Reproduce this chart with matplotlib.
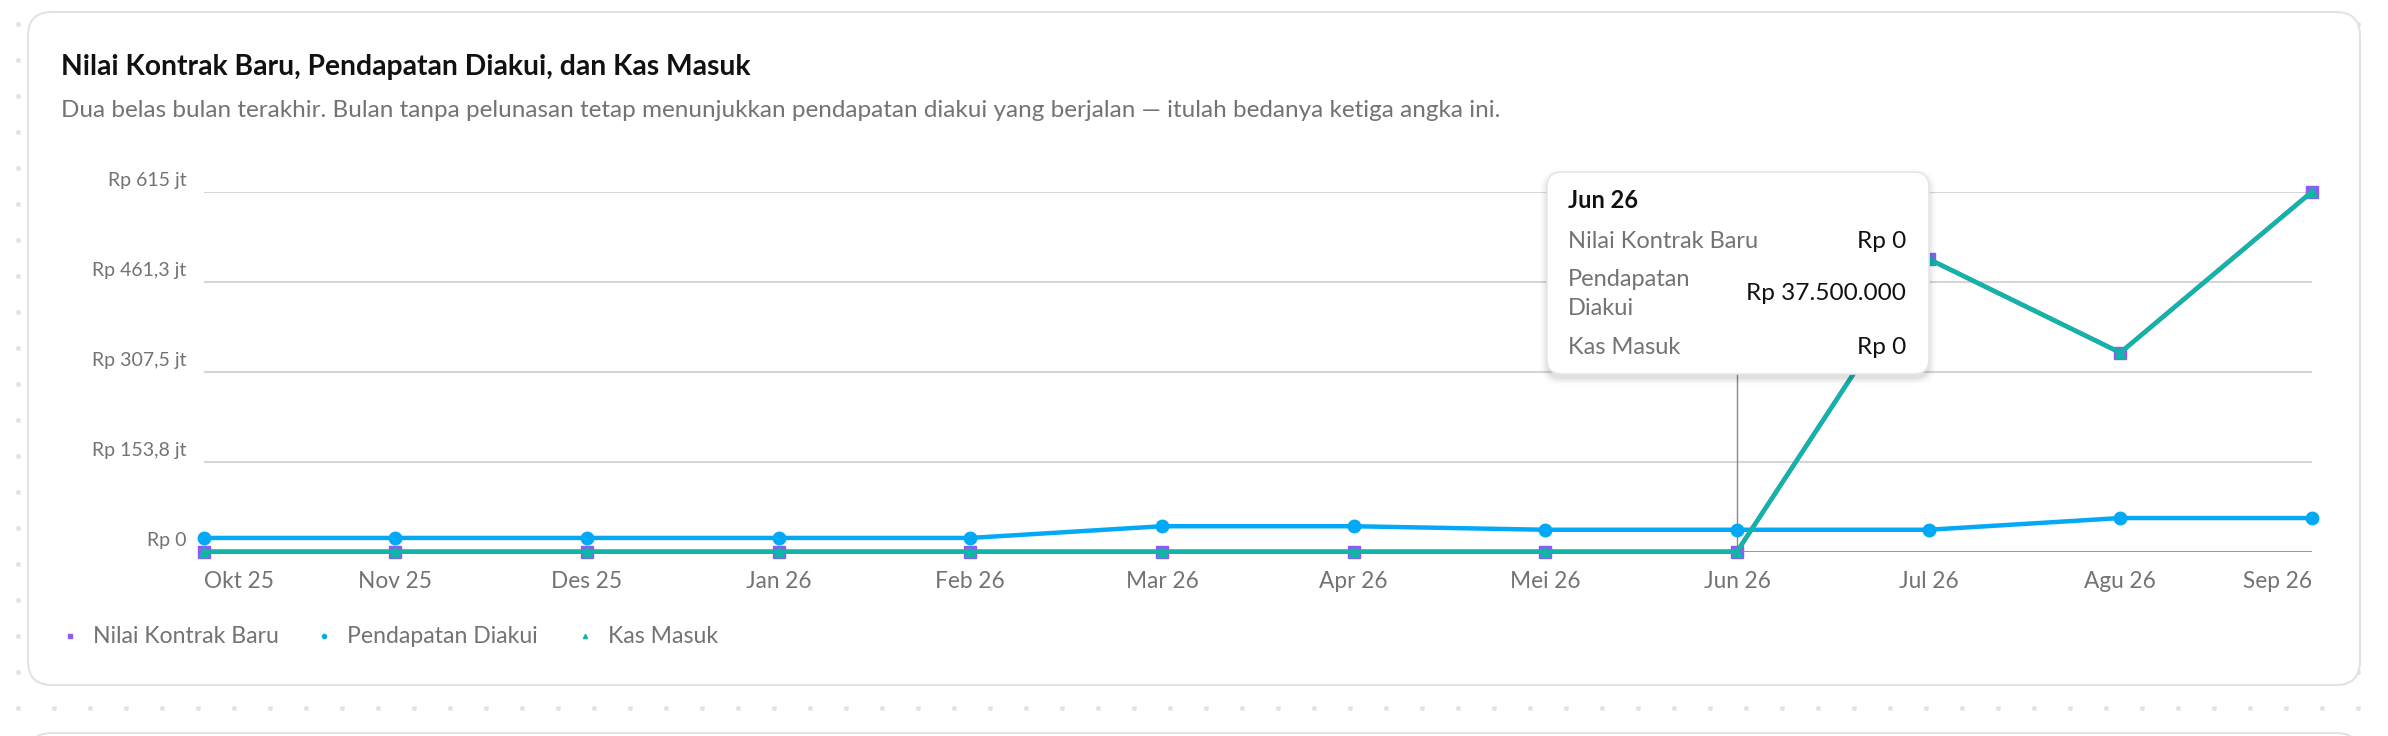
import matplotlib
matplotlib.use("Agg")
import matplotlib.pyplot as plt
import numpy as np
from matplotlib.patches import FancyBboxPatch
from matplotlib import transforms

plt.rcParams['font.family'] = ['Lato', 'DejaVu Sans']

# data (juta rupiah)
bulan = ['Okt 25', 'Nov 25', 'Des 25', 'Jan 26', 'Feb 26', 'Mar 26',
         'Apr 26', 'Mei 26', 'Jun 26', 'Jul 26', 'Agu 26', 'Sep 26']
nilai_kontrak = [0, 0, 0, 0, 0, 0, 0, 0, 0, 500, 340, 615]
pendapatan = [23.5, 23.5, 23.5, 23.5, 23.5, 43.5, 43.5, 37.5, 37.5, 37.5, 57.5, 57.5]
kas_masuk = [0, 0, 0, 0, 0, 0, 0, 0, 0, 500, 340, 615]
nama_seri = ['Nilai Kontrak Baru', 'Pendapatan Diakui', 'Kas Masuk']
warna = ['#8b5cf6', '#03a9f4', '#10b5a5']
y_max = 615
idx_tooltip = 8

judul = 'Nilai Kontrak Baru, Pendapatan Diakui, dan Kas Masuk'
sub = ('Dua belas bulan terakhir. Bulan tanpa pelunasan tetap menunjukkan pendapatan '
       'diakui yang berjalan \u2014 itulah bedanya ketiga angka ini.')

ABU = '#737373'


def fmt_jt(v):
    v = int(v * 10 + 0.5) / 10
    s = ('%.1f' % v).rstrip('0').rstrip('.').replace('.', ',')
    return 'Rp 0' if v == 0 else 'Rp %s jt' % s


def fmt_rp(v):
    n = int(round(v * 1_000_000))
    return 'Rp ' + '{:,}'.format(n).replace(',', '.')


W, H = 2388, 736
fig = plt.figure(figsize=(W / 100, H / 100), dpi=100)
fig.patch.set_facecolor('white')

# background with dots + card
bg = fig.add_axes([0, 0, 1, 1], zorder=0)
bg.set_xlim(0, W)
bg.set_ylim(H, 0)
bg.axis('off')
gx, gy = np.meshgrid(np.arange(18, W, 36), np.arange(24, H, 36))
bg.scatter(gx.ravel(), gy.ravel(), s=13, color='#e4e4e4', lw=0)
bg.add_patch(FancyBboxPatch((28, 12), 2332, 673, boxstyle='round,pad=0,rounding_size=24',
                            fc='white', ec='#e2e2e2', lw=1.5))
bg.add_patch(FancyBboxPatch((28, 733), 2332, 100, boxstyle='round,pad=0,rounding_size=24',
                            fc='white', ec='#e2e2e2', lw=1.5))

bg.text(61, 75, judul, fontsize=20.3, fontweight='bold', color='#111111', va='baseline')
bg.text(61, 117, sub, fontsize=17.5, color=ABU, va='baseline')

# chart
x0, x1, y0, y1 = 203.6, 2312, 551.7, 191.7
ax = fig.add_axes([x0 / W, 1 - y0 / H, (x1 - x0) / W, (y0 - y1) / H], zorder=2)
ax.patch.set_alpha(0)
ax.set_xlim(0, len(bulan) - 1)
ax.set_ylim(0, y_max)
for s in ax.spines.values():
    s.set_visible(False)
ax.set_xticks([])
ax.set_yticks([])

ticks = np.linspace(0, y_max, 5)
ylab_tr = transforms.offset_copy(transforms.blended_transform_factory(ax.transAxes, ax.transData),
                                 fig=fig, x=-17, y=6, units='dots')
for t in ticks:
    ax.axhline(t, color='#9a9a9a' if t == 0 else '#d6d6d6', lw=1.5, zorder=0)
    ax.text(0, t, fmt_jt(t), transform=ylab_tr, ha='right', va='baseline', fontsize=14, color=ABU)

xlab_tr = transforms.offset_copy(ax.transData, fig=fig, x=0, y=-36.5, units='dots')
for i, b in enumerate(bulan):
    ha = 'left' if i == 0 else ('right' if i == len(bulan) - 1 else 'center')
    ax.text(i, 0, b, transform=xlab_tr, ha=ha, va='baseline', fontsize=16.3, color=ABU)

x = np.arange(len(bulan))
ax.plot(x, nilai_kontrak, color=warna[0], lw=3.2, marker='s', ms=9.3, clip_on=False, zorder=3)
ax.plot(x, pendapatan, color=warna[1], lw=3.2, marker='o', ms=9, clip_on=False, zorder=4)
ax.plot(x, kas_masuk, color=warna[2], lw=3.2, marker='^', ms=7.5, clip_on=False, zorder=5)

# tooltip
tx, ty, tw, th = 1547, 172, 382, 202
ax.axvline(idx_tooltip, ymin=0, ymax=(y0 - (ty + th)) / (y0 - y1), color='#8a8a8a', lw=1, zorder=2)

fg = fig.add_axes([0, 0, 1, 1], zorder=6)
fg.set_xlim(0, W)
fg.set_ylim(H, 0)
fg.axis('off')
for k, a in enumerate([0.035, 0.03, 0.022, 0.015, 0.01]):
    d = 2 + k * 3
    fg.add_patch(FancyBboxPatch((tx - d / 2, ty - d / 2 + 4), tw + d, th + d,
                                boxstyle='round,pad=0,rounding_size=%d' % (15 + d / 2),
                                fc='black', ec='none', alpha=a))
fg.add_patch(FancyBboxPatch((tx, ty), tw, th, boxstyle='round,pad=0,rounding_size=15',
                            fc='white', ec='#e6e6e6', lw=1.2))
fg.text(tx + 21, 208, bulan[idx_tooltip], fontsize=17, fontweight='bold', color='#111111', va='baseline')
vals = [nilai_kontrak[idx_tooltip], pendapatan[idx_tooltip], kas_masuk[idx_tooltip]]
rows_y = [242, 294, 347]
for nm, v, ry in zip(nama_seri, vals, rows_y):
    vs = fmt_rp(v)
    lab = nm.replace(' ', '\n') if len(vs) > 8 else nm
    fg.text(tx + 21, ry, lab, fontsize=17, color=ABU, va='center', linespacing=1.45)
    fg.text(tx + tw - 23, ry, vs, fontsize=17.6, color='#111111', va='center', ha='right')

# legend
leg_x = [70, 324, 585]
for nm, c, mk, lx in zip(nama_seri, warna, ['s', 'o', '^'], leg_x):
    fg.plot(lx, 636, marker=mk, ms=3, color=c, mec=c)
    fg.text(lx + 23, 643, nm, fontsize=16.6, color=ABU, va='baseline')

fig.savefig('out.png', dpi=100)
